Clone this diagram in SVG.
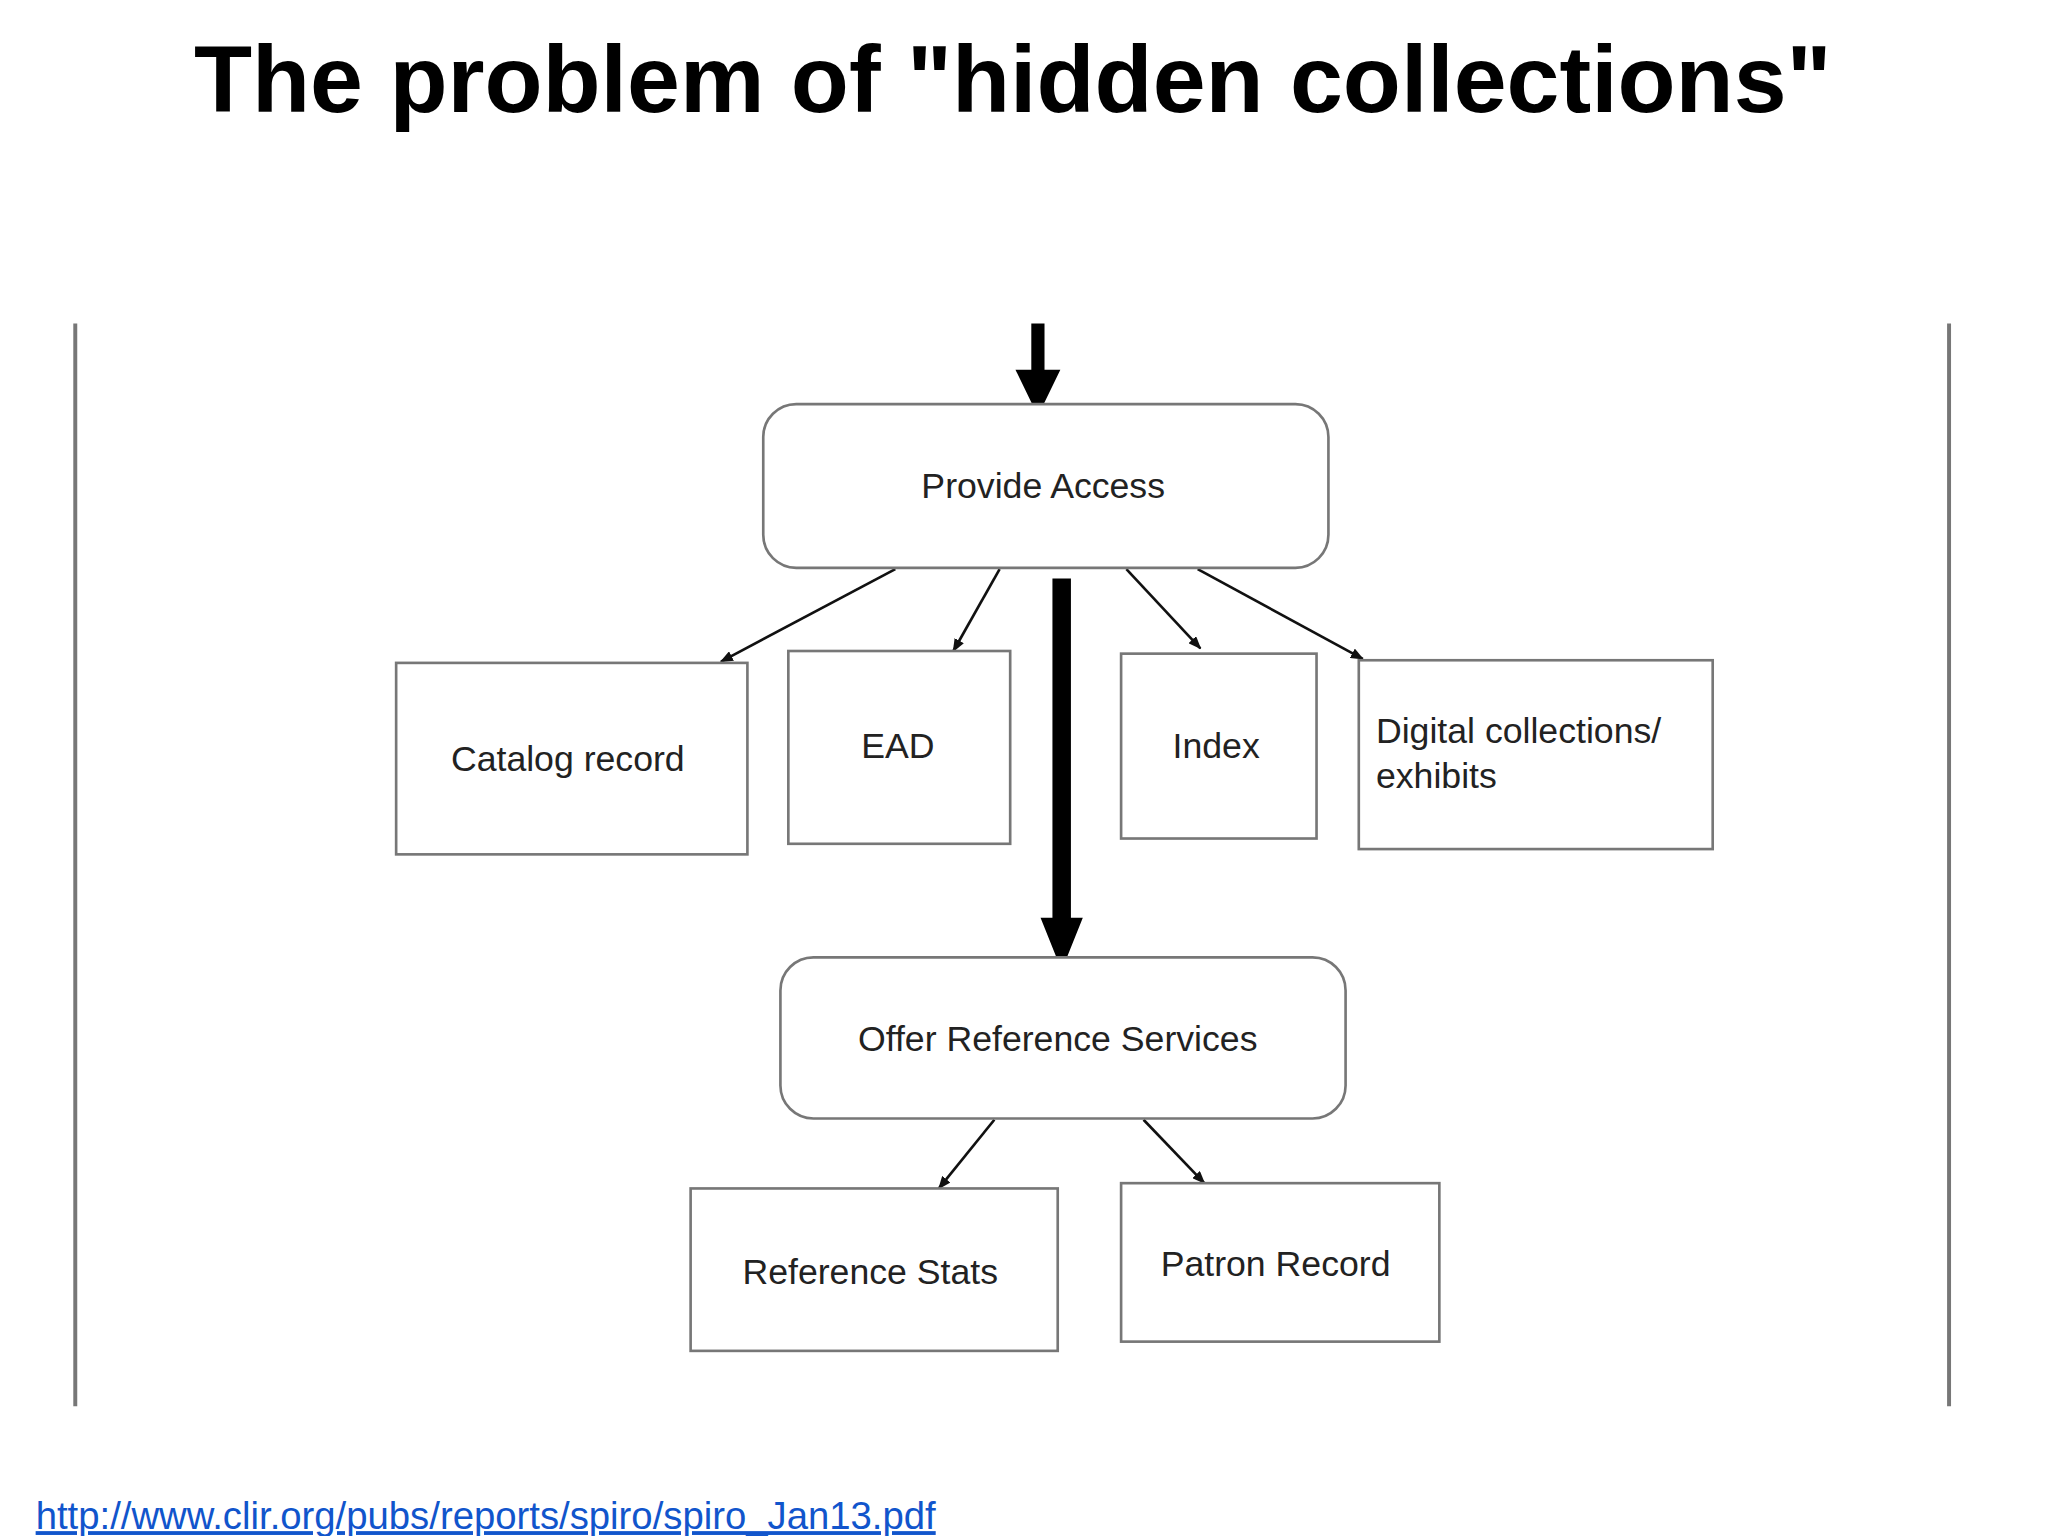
<svg xmlns="http://www.w3.org/2000/svg" width="2048" height="1536" viewBox="0 0 2048 1536">
<style>
.box{fill:#fff;stroke:#777;stroke-width:2}
.t{font-family:"Liberation Sans",Arial,sans-serif;font-size:27px;fill:#222}
.c{stroke:#111;stroke-width:2;fill:none}
.side{stroke:#777;stroke-width:3}
</style>
<defs>
<marker id="ah" markerWidth="10" markerHeight="8" refX="9" refY="4" orient="auto" markerUnits="userSpaceOnUse" viewBox="0 0 10 8">
<path d="M0,0 L10,4 L0,8 z" fill="#111"/>
</marker>
</defs>
<rect width="2048" height="1536" fill="#fff"/>
<g transform="scale(1.3205)">
<text x="767" y="85" text-anchor="middle" font-family="Liberation Sans,Arial,sans-serif" font-weight="bold" font-size="72" fill="#000">The problem of "hidden collections"</text>
<line class="side" x1="57" y1="245" x2="57" y2="1065"/>
<line class="side" x1="1476" y1="245" x2="1476" y2="1065"/>
<g id="connectors">
<path d="M781,245 H791 V280 H803 L786,315 L769,280 H781 Z" fill="#000"/>
<path d="M797,438 H811 V695 H820 L804,735 L788,695 H797 Z" fill="#000"/>
<line class="c" x1="678" y1="431" x2="546" y2="501" marker-end="url(#ah)"/>
<line class="c" x1="757" y1="431" x2="722" y2="493" marker-end="url(#ah)"/>
<line class="c" x1="853" y1="431" x2="909" y2="491" marker-end="url(#ah)"/>
<line class="c" x1="907" y1="431" x2="1032" y2="499" marker-end="url(#ah)"/>
<line class="c" x1="753" y1="848" x2="711" y2="900" marker-end="url(#ah)"/>
<line class="c" x1="866" y1="848" x2="912" y2="896" marker-end="url(#ah)"/>
</g>
<g id="provide"><rect class="box" x="578" y="306" width="428" height="124" rx="25"/><text class="t" x="790" y="377" text-anchor="middle">Provide Access</text></g>
<g id="catalog"><rect class="box" x="300" y="502" width="266" height="145"/><text class="t" x="430" y="584" text-anchor="middle">Catalog record</text></g>
<g id="ead"><rect class="box" x="597" y="493" width="168" height="146"/><text class="t" x="680" y="574" text-anchor="middle">EAD</text></g>
<g id="index"><rect class="box" x="849" y="495" width="148" height="140"/><text class="t" x="921" y="574" text-anchor="middle">Index</text></g>
<g id="digital"><rect class="box" x="1029" y="500" width="268" height="143"/><text class="t" x="1042" y="563">Digital collections/</text><text class="t" x="1042" y="597">exhibits</text></g>
<g id="offer"><rect class="box" x="591" y="725" width="428" height="122" rx="25"/><text class="t" x="801" y="796" text-anchor="middle">Offer Reference Services</text></g>
<g id="refstats"><rect class="box" x="523" y="900" width="278" height="123"/><text class="t" x="659" y="972" text-anchor="middle">Reference Stats</text></g>
<g id="patron"><rect class="box" x="849" y="896" width="241" height="120"/><text class="t" x="966" y="966" text-anchor="middle">Patron Record</text></g>
<text x="27" y="1158" font-family="Liberation Sans,Arial,sans-serif" font-size="29" fill="#1155cc" text-decoration="underline">http://www.clir.org/pubs/reports/spiro/spiro_Jan13.pdf</text>
</g>
</svg>
